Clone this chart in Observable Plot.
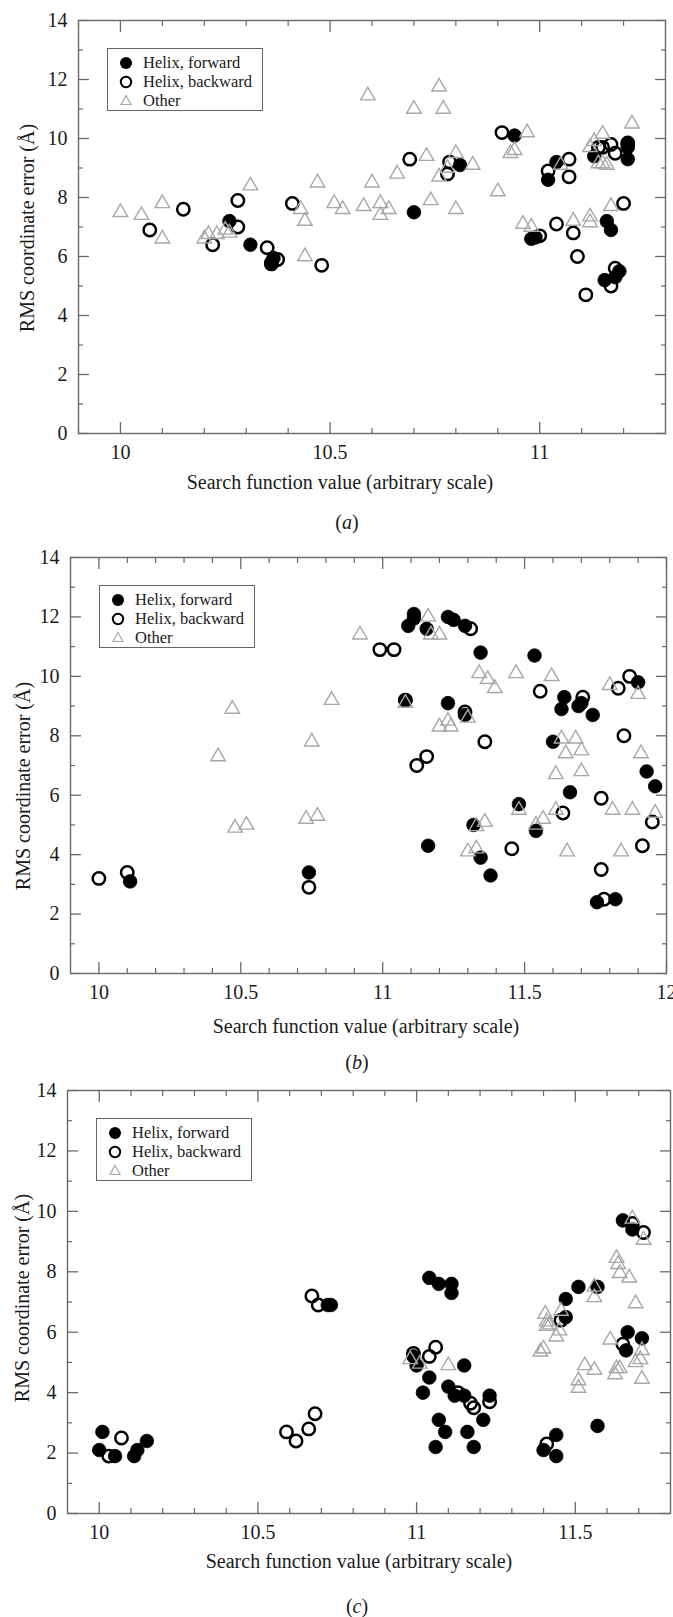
<!DOCTYPE html>
<html><head><meta charset="utf-8">
<script src="https://cdn.jsdelivr.net/npm/d3@7"></script>
<script src="https://cdn.jsdelivr.net/npm/@observablehq/plot@0.6"></script>
<style>
html,body{margin:0;padding:0;background:#fff;}
#root{position:relative;width:673px;height:1617px;overflow:hidden;font-family:"Liberation Serif","Times New Roman","DejaVu Serif",serif;color:#1a1a1a;}
#root svg.plot-panel{position:absolute;left:0;}
.t{position:absolute;white-space:nowrap;transform:translate(-50%,-50%);}
.ytitle{position:absolute;white-space:nowrap;font-size:20px;transform:translate(-50%,-50%) rotate(-90deg);}
.xtitle{font-size:20px;}
.cap{font-size:20px;}
.legend{position:absolute;width:156px;height:63px;border:1.3px solid #666;background:#fff;box-sizing:border-box;font-size:16.5px;}
.legend .row{position:absolute;left:0;height:19px;line-height:19px;}
.legend .row svg{position:absolute;left:9px;top:1px;}
.legend .row span{position:absolute;left:35px;top:0;white-space:nowrap;}
</style></head>
<body><div id="root"></div>
<script>
// ---------- tick values ----------
const yMajor = [0, 2, 4, 6, 8, 10, 12, 14];
const yMinor = [1, 3, 5, 7, 9, 11, 13];
const aXMajor = [10, 10.5, 11];
const aXMinor = [9.9, 10.1, 10.2, 10.3, 10.4, 10.6, 10.7, 10.8, 10.9, 11.1, 11.2];
const bXMajor = [10, 10.5, 11, 11.5, 12];
const bXMinor = [10.1, 10.2, 10.3, 10.4, 10.6, 10.7, 10.8, 10.9, 11.1, 11.2, 11.3, 11.4, 11.6, 11.7, 11.8, 11.9];
const cXMajor = [10, 10.5, 11, 11.5];
const cXMinor = [10.1, 10.2, 10.3, 10.4, 10.6, 10.7, 10.8, 10.9, 11.1, 11.2, 11.3, 11.4, 11.6, 11.7];

const seriesNames = ["Helix, forward", "Helix, backward", "Other"];
const panelLabels = ["a", "b", "c"];
const xTitle = "Search function value (arbitrary scale)";
const yTitle = "RMS coordinate error (Å)";

// ---------- panel (a) ----------
const aForward = [[10.26,7.2],[10.31,6.4],[10.36,5.8],[10.365,5.95],[10.70,7.5],[10.81,9.1],[10.94,10.1],[10.98,6.6],[10.99,6.65],[11.02,8.6],[11.04,9.2],[11.13,9.4],[11.16,7.2],[11.17,6.9],[11.155,5.2],[11.18,5.3],[11.19,5.5],[11.21,9.8],[11.21,9.3],[11.21,9.7]];
const aBackward = [[10.07,6.9],[10.15,7.6],[10.22,6.4],[10.28,7.9],[10.28,7.0],[10.35,6.3],[10.36,5.75],[10.375,5.9],[10.41,7.8],[10.48,5.7],[10.69,9.3],[10.78,8.8],[10.785,9.2],[10.91,10.2],[11.0,6.7],[11.02,8.9],[11.04,7.1],[11.07,9.3],[11.07,8.7],[11.08,6.8],[11.09,6.0],[11.11,4.7],[11.14,9.7],[11.15,9.7],[11.17,9.8],[11.17,5.0],[11.18,5.6],[11.18,9.5],[11.2,7.8],[11.21,9.85]];
const aOther = [[10.0,7.5],[10.05,7.4],[10.1,7.8],[10.1,6.6],[10.2,6.6],[10.21,6.75],[10.23,6.75],[10.25,6.9],[10.26,6.8],[10.31,8.4],[10.43,7.6],[10.44,7.2],[10.44,6.0],[10.47,8.5],[10.51,7.8],[10.53,7.6],[10.58,7.7],[10.59,11.45],[10.6,8.5],[10.62,7.8],[10.62,7.4],[10.64,7.6],[10.66,8.8],[10.70,11.0],[10.73,9.4],[10.74,7.9],[10.76,8.7],[10.76,11.75],[10.77,11.0],[10.78,9.0],[10.80,9.5],[10.80,7.6],[10.84,9.1],[10.90,8.2],[10.93,9.5],[10.94,9.6],[10.97,10.2],[10.96,7.1],[10.98,7.0],[11.05,9.1],[11.08,7.2],[11.12,7.35],[11.12,7.15],[11.12,9.7],[11.13,9.9],[11.14,9.15],[11.15,9.15],[11.16,9.1],[11.15,10.15],[11.17,7.7],[11.22,10.5]];

// ---------- panel (b) ----------
const bForward = [[10.11,3.1],[10.74,3.4],[11.08,9.2],[11.09,11.7],[11.11,12.1],[11.11,11.95],[11.155,11.6],[11.16,4.3],[11.23,12.0],[11.23,9.1],[11.25,11.9],[11.29,11.7],[11.29,8.7],[11.32,5.0],[11.345,10.8],[11.345,3.9],[11.38,3.3],[11.48,5.7],[11.535,10.7],[11.54,4.8],[11.60,7.8],[11.63,8.9],[11.64,9.3],[11.66,6.1],[11.69,9.0],[11.70,9.1],[11.74,8.7],[11.755,2.4],[11.82,2.5],[11.90,9.8],[11.93,6.8],[11.96,6.3]];
const bBackward = [[10.0,3.2],[10.10,3.4],[10.74,2.9],[10.99,10.9],[11.04,10.9],[11.08,9.2],[11.12,7.0],[11.155,7.3],[11.31,11.6],[11.29,8.8],[11.36,7.8],[11.455,4.2],[11.555,9.5],[11.635,5.4],[11.705,9.3],[11.77,5.9],[11.77,3.5],[11.78,2.5],[11.83,9.6],[11.85,8.0],[11.87,10.0],[11.915,4.3],[11.95,5.1]];
const bOther = [[10.42,7.3],[10.47,8.9],[10.48,4.9],[10.52,5.0],[10.73,5.2],[10.77,5.3],[10.75,7.8],[10.82,9.2],[10.92,11.4],[11.08,9.1],[11.16,12.0],[11.17,11.4],[11.20,11.4],[11.20,8.3],[11.23,8.5],[11.24,8.3],[11.30,8.6],[11.30,4.1],[11.33,4.95],[11.33,4.2],[11.34,10.1],[11.36,5.1],[11.37,9.9],[11.395,9.6],[11.47,10.1],[11.48,5.5],[11.54,5.0],[11.565,5.2],[11.595,10.0],[11.61,5.5],[11.61,6.7],[11.63,7.9],[11.645,7.4],[11.65,4.1],[11.68,7.9],[11.70,7.5],[11.70,6.8],[11.80,9.7],[11.81,5.5],[11.84,4.1],[11.88,5.5],[11.90,9.4],[11.91,7.4],[11.96,5.4]];

// ---------- panel (c) ----------
const cForward = [[10.0,2.1],[10.01,2.7],[10.05,1.9],[10.11,1.9],[10.12,2.1],[10.15,2.4],[10.72,6.9],[10.73,6.9],[10.99,5.2],[11.0,4.9],[11.02,4.0],[11.04,7.8],[11.04,4.5],[11.06,2.2],[11.07,7.6],[11.07,3.1],[11.09,2.7],[11.10,4.2],[11.11,7.6],[11.11,7.3],[11.12,3.9],[11.15,4.9],[11.15,3.9],[11.16,2.7],[11.18,2.2],[11.21,3.1],[11.23,3.9],[11.40,2.1],[11.44,2.6],[11.44,1.9],[11.47,7.1],[11.47,6.5],[11.51,7.5],[11.57,7.5],[11.57,2.9],[11.65,9.7],[11.665,6.0],[11.66,5.4],[11.68,9.4],[11.71,5.8]];
const cBackward = [[10.03,1.9],[10.07,2.5],[10.59,2.7],[10.62,2.4],[10.66,2.8],[10.68,3.3],[10.67,7.2],[10.69,6.9],[10.99,5.3],[11.04,5.2],[11.06,5.5],[11.13,4.0],[11.17,3.65],[11.18,3.5],[11.23,3.7],[11.41,2.3],[11.455,6.4],[11.65,5.6],[11.68,9.6],[11.715,9.3]];
const cOther = [[10.98,5.1],[11.01,4.95],[11.10,4.9],[11.39,5.35],[11.40,5.45],[11.405,6.6],[11.41,6.35],[11.42,6.25],[11.41,6.2],[11.44,5.85],[11.45,6.05],[11.455,6.7],[11.51,4.4],[11.51,4.15],[11.53,4.9],[11.56,4.75],[11.56,7.15],[11.56,7.5],[11.61,5.75],[11.625,4.6],[11.63,4.8],[11.64,4.8],[11.63,8.45],[11.635,8.25],[11.64,7.95],[11.67,7.8],[11.69,6.95],[11.68,9.75],[11.69,5.0],[11.705,5.1],[11.71,5.4],[11.71,4.45],[11.715,9.05]];

// ---------- layout ----------
const W = 673;
const panels = [
  {fwd: aForward, bwd: aBackward, oth: aOther, xDomain: [9.9, 11.3], xMajor: aXMajor, xMinor: aXMinor,
   left: 78, right: 665, top: 20, bottom: 433, yTitleAt: [27, 228], xTitleAt: [340, 482], capAt: [347, 522]},
  {fwd: bForward, bwd: bBackward, oth: bOther, xDomain: [9.9, 12], xMajor: bXMajor, xMinor: bXMinor,
   left: 70, right: 666, top: 557, bottom: 973, yTitleAt: [23, 786], xTitleAt: [366, 1026], capAt: [357, 1062]},
  {fwd: cForward, bwd: cBackward, oth: cOther, xDomain: [9.9, 11.8], xMajor: cXMajor, xMinor: cXMinor,
   left: 67, right: 670, top: 1090, bottom: 1513, yTitleAt: [22, 1298], xTitleAt: [359, 1561], capAt: [357, 1606]}
];

const root = document.getElementById("root");
const axisColor = "#6a6a6a";
const fmt = d => `${d}`;
const MT = 20, MB = 30;

panels.forEach((p, i) => {
  const svg = Plot.plot({
    width: W,
    height: p.bottom - p.top + MT + MB,
    marginLeft: p.left, marginRight: W - p.right, marginTop: MT, marginBottom: MB,
    x: {domain: p.xDomain, axis: null},
    y: {domain: [0, 14], axis: null},
    style: {background: "transparent", fontFamily: "'Liberation Serif', 'Times New Roman', 'DejaVu Serif', serif", color: "#1a1a1a", overflow: "visible"},
    marks: [
      Plot.axisX(p.xMajor, {anchor: "bottom", tickSize: -11, tickPadding: 22, tickFormat: fmt, label: null, stroke: axisColor, fill: "#1a1a1a", fontSize: 20, strokeWidth: 1.3}),
      Plot.axisX(p.xMinor, {anchor: "bottom", tickSize: -5, tickFormat: () => "", label: null, stroke: axisColor, strokeWidth: 1.2}),
      Plot.axisX(p.xMajor, {anchor: "top", tickSize: -11, tickFormat: () => "", label: null, stroke: axisColor, strokeWidth: 1.3}),
      Plot.axisX(p.xMinor, {anchor: "top", tickSize: -5, tickFormat: () => "", label: null, stroke: axisColor, strokeWidth: 1.2}),
      Plot.axisY(yMajor, {anchor: "left", tickSize: -11, tickPadding: 22, tickFormat: fmt, label: null, stroke: axisColor, fill: "#1a1a1a", fontSize: 20, strokeWidth: 1.3}),
      Plot.axisY(yMinor, {anchor: "left", tickSize: -5, tickFormat: () => "", label: null, stroke: axisColor, strokeWidth: 1.2}),
      Plot.axisY(yMajor, {anchor: "right", tickSize: -11, tickFormat: () => "", label: null, stroke: axisColor, strokeWidth: 1.3}),
      Plot.axisY(yMinor, {anchor: "right", tickSize: -5, tickFormat: () => "", label: null, stroke: axisColor, strokeWidth: 1.2}),
      Plot.frame({stroke: axisColor, strokeWidth: 1.4}),
      Plot.dot(p.fwd, {x: d => d[0], y: d => d[1], r: 6.8, fill: "#000", stroke: "#000", strokeWidth: 0.8}),
      Plot.dot(p.bwd, {x: d => d[0], y: d => d[1], r: 6.2, fill: "none", stroke: "#000", strokeWidth: 2.5}),
      Plot.dot(p.oth, {x: d => d[0], y: d => d[1], symbol: "triangle", r: 5.4, fill: "none", stroke: "#a8a8a8", strokeWidth: 1.4})
    ]
  });
  svg.classList.add("plot-panel");
  svg.style.top = (p.top - MT) + "px";
  root.appendChild(svg);

  // axis titles and caption
  const yt = document.createElement("div");
  yt.className = "ytitle";
  yt.textContent = yTitle;
  yt.style.left = p.yTitleAt[0] + "px";
  yt.style.top = p.yTitleAt[1] + "px";
  root.appendChild(yt);

  const xt = document.createElement("div");
  xt.className = "t xtitle";
  xt.textContent = xTitle;
  xt.style.left = p.xTitleAt[0] + "px";
  xt.style.top = p.xTitleAt[1] + "px";
  root.appendChild(xt);

  const cap = document.createElement("div");
  cap.className = "t cap";
  cap.innerHTML = "(<i>" + panelLabels[i] + "</i>)";
  cap.style.left = p.capAt[0] + "px";
  cap.style.top = p.capAt[1] + "px";
  root.appendChild(cap);

  // legend
  const lg = document.createElement("div");
  lg.className = "legend";
  lg.style.left = (p.left + 29) + "px";
  lg.style.top = (p.top + 28) + "px";
  const syms = [
    '<svg width="18" height="18"><circle cx="9" cy="9" r="6" fill="#000"/></svg>',
    '<svg width="18" height="18"><circle cx="9" cy="9" r="5.2" fill="none" stroke="#000" stroke-width="2"/></svg>',
    '<svg width="18" height="18"><path d="M9,3.5L14,12.5L4,12.5Z" fill="none" stroke="#a8a8a8" stroke-width="1.2"/></svg>'
  ];
  seriesNames.forEach((name, k) => {
    const row = document.createElement("div");
    row.className = "row";
    row.style.top = (4 + k * 19) + "px";
    row.innerHTML = syms[k] + "<span>" + name + "</span>";
    lg.appendChild(row);
  });
  root.appendChild(lg);
});
</script>
</body></html>
